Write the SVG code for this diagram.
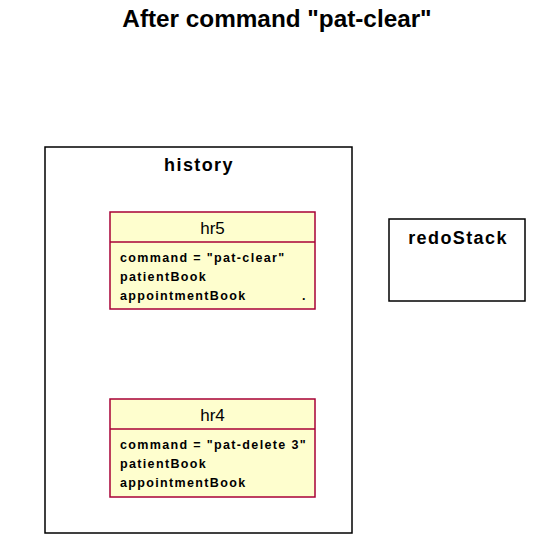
<svg xmlns="http://www.w3.org/2000/svg" width="540" height="548" viewBox="0 0 540 548">
<style>
.frame{fill:#fff;stroke:#000;stroke-width:1.5}
.obj{fill:#FEFECE;stroke:#A80036;stroke-width:1.5}
.div{stroke:#A80036;stroke-width:1.5}
.title{font-family:"Liberation Sans",Arial,sans-serif;font-size:24.3px;font-weight:bold;fill:#000}
.fname{font-family:"Liberation Sans",Arial,sans-serif;font-size:18px;font-weight:bold;letter-spacing:1.4px;fill:#000}
.oname{font-family:"Liberation Sans",Arial,sans-serif;font-size:17px;fill:#000}
.attr{font-family:"Liberation Sans",Arial,sans-serif;font-size:12.5px;font-weight:bold;letter-spacing:1.35px;fill:#000}
</style>
<rect width="540" height="548" fill="#fff"/>
<text class="title" x="277" y="27" text-anchor="middle">After command "pat-clear"</text>
<g id="history">
<rect class="frame" x="45" y="147" width="307" height="386"/>
<text class="fname" x="199" y="171" text-anchor="middle">history</text>
</g>
<g id="redoStack">
<rect class="frame" x="389" y="219" width="136" height="82"/>
<text class="fname" x="458" y="244" text-anchor="middle">redoStack</text>
</g>
<g id="hr5">
<rect class="obj" x="110" y="212" width="205" height="97"/>
<line class="div" x1="110" y1="242" x2="315" y2="242"/>
<text class="oname" x="212.5" y="234" text-anchor="middle">hr5</text>
<text class="attr" x="120" y="262">command = "pat-clear"</text>
<text class="attr" x="120" y="281">patientBook</text>
<text class="attr" x="120" y="300">appointmentBook</text>
<text class="attr" x="302" y="300">.</text>
</g>
<g id="hr4">
<rect class="obj" x="110" y="399" width="205" height="98"/>
<line class="div" x1="110" y1="429" x2="315" y2="429"/>
<text class="oname" x="212.5" y="421" text-anchor="middle">hr4</text>
<text class="attr" x="120" y="449">command = "pat-delete 3"</text>
<text class="attr" x="120" y="468">patientBook</text>
<text class="attr" x="120" y="487">appointmentBook</text>
</g>
<g id="connectors"></g>
</svg>
